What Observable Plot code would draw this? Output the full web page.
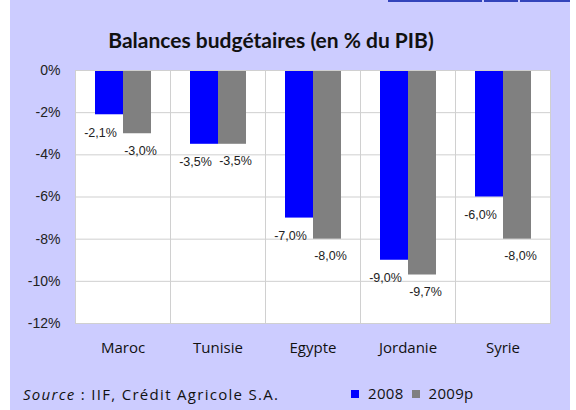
<!DOCTYPE html>
<html>
<head>
<meta charset="utf-8">
<script src="https://cdn.jsdelivr.net/npm/d3@7"></script>
<script src="https://cdn.jsdelivr.net/npm/@observablehq/plot@0.6"></script>
<style>
  html, body { margin: 0; padding: 0; background: #ffffff; }
  #page { position: relative; width: 576px; height: 410px; overflow: hidden; background: #fff; }
  #panel { position: absolute; left: 10px; top: 0; width: 560px; height: 410px; background: #ccccff; }
  .deco { position: absolute; top: 0; height: 2px; background: #3344bb; }
  #title { position: absolute; left: 0; width: 522px; top: 27px; text-align: center;
           font-family: Lato, "Open Sans", sans-serif; font-weight: bold; font-size: 21px; color: #111; }
  #chart { position: absolute; left: 0; top: 60px; }
  #source { position: absolute; left: 13px; top: 384px; font-family: "Open Sans", sans-serif; font-size: 15px; letter-spacing: 1.3px; color: #111; white-space: nowrap; }
  #legend { position: absolute; left: 341px; top: 383px; font-family: "Open Sans", sans-serif; font-size: 15px; letter-spacing: 0.3px; color: #111; white-space: nowrap; }
  #legend .sw { display: inline-block; width: 8px; height: 8px; margin-right: 9px; vertical-align: 1px; }
  #legend .item { margin-right: 8px; }
  #chart [aria-label^="fx-axis"] text { font-family: "Open Sans", sans-serif; font-size: 15px; fill: #111; }
</style>
</head>
<body>
<div id="page">
  <div id="panel">
    <div id="title">Balances budgétaires (en % du PIB)</div>
    <div id="chart"></div>
    <div id="source"><i>Source</i> : IIF, Crédit Agricole S.A.</div>
    <div id="legend"></div>
  </div>
  <div class="deco" style="left:388px;width:94px"></div>
  <div class="deco" style="left:484px;width:34px"></div>
  <div class="deco" style="left:520px;width:50px"></div>
</div>
<script>
const countries = ["Maroc", "Tunisie", "Egypte", "Jordanie", "Syrie"];
const series = ["2008", "2009p"];
const values2008 = [-2.1, -3.5, -7.0, -9.0, -6.0];
const values2009p = [-3.0, -3.5, -8.0, -9.7, -8.0];
const yTicks = [0, -2, -4, -6, -8, -10, -12];
const colors = ["#0000ff", "#808080"];

const data = countries.flatMap((c, i) => [
  {country: c, series: series[0], value: values2008[i]},
  {country: c, series: series[1], value: values2009p[i]}
]);
const fmt = v => v.toFixed(1).replace(".", ",") + "%";

const chart = Plot.plot({
  width: 560,
  height: 300,
  marginLeft: 63,
  marginRight: 18,
  marginTop: 10,
  marginBottom: 37,
  style: {background: "transparent", fontFamily: "'Liberation Sans', Arial, sans-serif", fontSize: "14px", color: "#222"},
  fx: {domain: countries, padding: 0, label: null, axis: "bottom", tickSize: 0, tickPadding: 19},
  x: {domain: series, paddingInner: 0, paddingOuter: 0.68, axis: null},
  y: {domain: [-12, 0], ticks: yTicks, tickFormat: d => d + "%", label: null, tickSize: 0, tickPadding: 15},
  color: {domain: series, range: colors},
  marks: [
    Plot.frame({fill: "white", stroke: null}),
    Plot.ruleY(yTicks, {stroke: "#cfcfcf"}),
    Plot.barY(data, {fx: "country", x: "series", y: "value", fill: "series"}),
    Plot.text(data.filter(d => d.series === series[0]), {fx: "country", x: "series", y: "value", text: d => fmt(d.value), dy: 18, dx: -9, fontSize: 12.5, fill: "#222"}),
    Plot.text(data.filter(d => d.series === series[1]), {fx: "country", x: "series", y: "value", text: d => fmt(d.value), dy: 17, dx: 3, fontSize: 12.5, fill: "#222"}),
    Plot.frame({stroke: "#d0d0d0"})
  ]
});
document.getElementById("chart").appendChild(chart);

const legend = document.getElementById("legend");
series.forEach((s, i) => {
  const span = document.createElement("span");
  span.className = "item";
  span.innerHTML = `<span class="sw" style="background:${colors[i]}"></span>${s}`;
  legend.appendChild(span);
});
</script>
</body>
</html>
